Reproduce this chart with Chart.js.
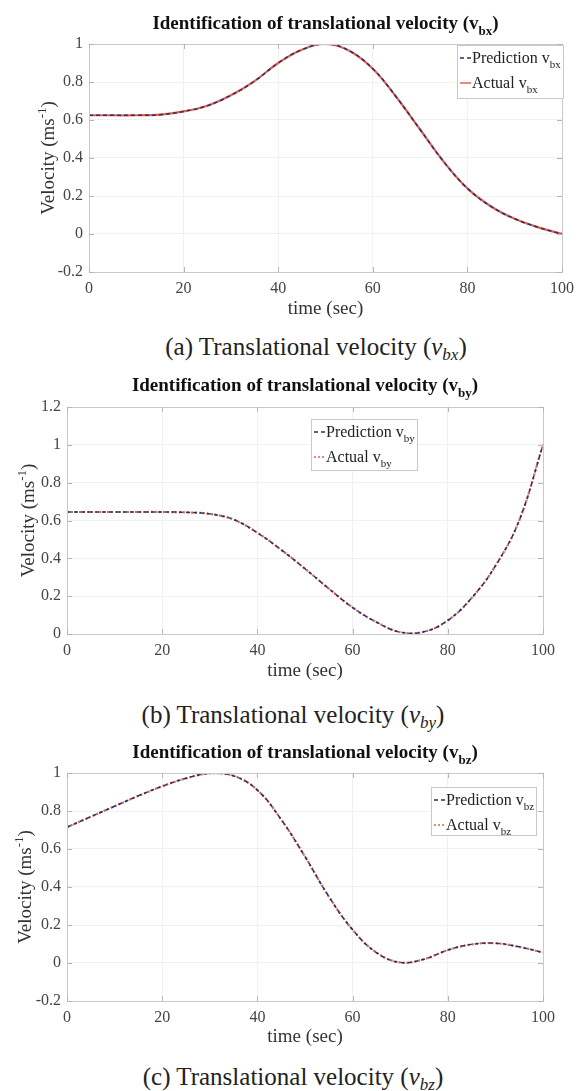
<!DOCTYPE html>
<html lang="en">
<head>
<meta charset="UTF-8">
<title>Identification of translational velocity</title>
<script src="https://cdn.jsdelivr.net/npm/chart.js"></script>
<style>
  body { margin: 0; background: #fff; width: 581px; height: 1091px; position: relative; overflow: hidden; font-family: "Liberation Serif", serif; }
  canvas { position: absolute; left: 0; }
  .caption { position: absolute; font-size: 25px; color: #222; white-space: nowrap; transform: translateX(-50%); line-height: 28px; }
  .caption sub { font-size: 17px; vertical-align: -5px; line-height: 0; }
</style>
</head>
<body>
<canvas id="chartBx" width="581" height="325" style="top:0px"></canvas>
<div class="caption" style="left:316px; top:333px">(a) Translational velocity (<i>v<sub>bx</sub></i>)</div>
<canvas id="chartBy" width="581" height="325" style="top:360px"></canvas>
<div class="caption" style="left:293px; top:701px">(b) Translational velocity (<i>v<sub>by</sub></i>)</div>
<canvas id="chartBz" width="581" height="325" style="top:728px"></canvas>
<div class="caption" style="left:293px; top:1063px">(c) Translational velocity (<i>v<sub>bz</sub></i>)</div>

<script>
// data (every 5 s)
const timeSec = [0, 5, 10, 15, 20, 25, 30, 35, 40, 45, 50, 55, 60, 65, 70, 75, 80, 85, 90, 95, 100];
const vbx = [0.625, 0.625, 0.625, 0.628, 0.645, 0.675, 0.73, 0.805, 0.9, 0.97, 1.0, 0.965, 0.87, 0.72, 0.55, 0.38, 0.24, 0.145, 0.08, 0.035, 0.0];
const vby = [0.645, 0.645, 0.645, 0.645, 0.645, 0.643, 0.635, 0.605, 0.535, 0.445, 0.345, 0.24, 0.14, 0.063, 0.01, 0.012, 0.072, 0.19, 0.36, 0.6, 1.0];
const vbz = [0.715, 0.77, 0.825, 0.88, 0.93, 0.972, 0.998, 0.985, 0.91, 0.755, 0.56, 0.35, 0.175, 0.055, 0.003, 0.02, 0.068, 0.098, 0.104, 0.085, 0.055];

const xTicks = [0, 20, 40, 60, 80, 100];
const yTicksBx = [-0.2, 0, 0.2, 0.4, 0.6, 0.8, 1];
const yTicksBy = [0, 0.2, 0.4, 0.6, 0.8, 1, 1.2];
const yTicksBz = [-0.2, 0, 0.2, 0.4, 0.6, 0.8, 1];

const RED = '#e2624f';
const NAVY = '#27306e';
const SERIF = '"Liberation Serif", "Times New Roman", serif';

// draw text made of pieces; s: 0 normal, -1 subscript, 1 superscript
function drawRich(ctx, parts, cx, cy, size, weight, color) {
  const fontFor = s => `${weight} ${s ? Math.round(size * 0.7) : size}px ${SERIF}`;
  let total = 0;
  parts.forEach(p => { ctx.font = fontFor(p.s); p.w = ctx.measureText(p.t).width; total += p.w; });
  let x = cx - total / 2;
  const base = cy + size * 0.33;
  ctx.fillStyle = color;
  ctx.textAlign = 'left';
  ctx.textBaseline = 'alphabetic';
  parts.forEach(p => {
    ctx.font = fontFor(p.s);
    const dy = p.s < 0 ? size * 0.32 : p.s > 0 ? -size * 0.42 : 0;
    ctx.fillText(p.t, x, base + dy);
    x += p.w;
  });
}

const decorPlugin = {
  id: 'decor',
  afterDraw(chart, args, o) {
    const ctx = chart.ctx;
    const a = chart.chartArea;
    ctx.save();
    // box
    ctx.strokeStyle = '#c9c9c9';
    ctx.lineWidth = 1;
    ctx.strokeRect(Math.round(a.left) + 0.5, Math.round(a.top) + 0.5, Math.round(a.right - a.left), Math.round(a.bottom - a.top));
    // inward tick marks
    ctx.strokeStyle = '#b5b5b5';
    ctx.beginPath();
    chart.scales.x.ticks.forEach(t => {
      const px = Math.round(chart.scales.x.getPixelForValue(t.value)) + 0.5;
      ctx.moveTo(px, a.bottom); ctx.lineTo(px, a.bottom - 5);
      ctx.moveTo(px, a.top); ctx.lineTo(px, a.top + 5);
    });
    chart.scales.y.ticks.forEach(t => {
      const py = Math.round(chart.scales.y.getPixelForValue(t.value)) + 0.5;
      ctx.moveTo(a.left, py); ctx.lineTo(a.left + 5, py);
      ctx.moveTo(a.right, py); ctx.lineTo(a.right - 5, py);
    });
    ctx.stroke();

    // title
    drawRich(ctx, [{t: 'Identification of translational velocity (v', s: 0}, {t: o.sub, s: -1}, {t: ')', s: 0}],
      (a.left + a.right) / 2, o.titleY, 19, 'bold', '#111');

    // y axis title
    ctx.save();
    ctx.translate(o.yTitleX, (a.top + a.bottom) / 2);
    ctx.rotate(-Math.PI / 2);
    drawRich(ctx, [{t: 'Velocity (ms', s: 0}, {t: '-1', s: 1}, {t: ')', s: 0}], 0, 0, 19, 'normal', '#333');
    ctx.restore();

    // legend
    const L = o.legend;
    ctx.fillStyle = '#fff';
    ctx.fillRect(L.x, L.y, L.w, L.h);
    ctx.strokeStyle = '#c9c9c9';
    ctx.strokeRect(L.x + 0.5, L.y + 0.5, L.w, L.h);
    const rows = [
      {label: 'Prediction v', color: NAVY, dash: [4, 3]},
      {label: 'Actual v', color: RED, dash: o.actualDash}
    ];
    rows.forEach((r, i) => {
      const ry = L.y + 13 + i * 25;
      ctx.strokeStyle = r.color;
      ctx.lineWidth = 1.5;
      ctx.setLineDash(r.dash);
      ctx.beginPath();
      ctx.moveTo(L.x + 3, ry); ctx.lineTo(L.x + 14, ry);
      ctx.stroke();
      ctx.setLineDash([]);
      ctx.font = `16px ${SERIF}`;
      const w1 = ctx.measureText(r.label).width;
      ctx.font = `11px ${SERIF}`;
      const w2 = ctx.measureText(o.sub).width;
      drawRich(ctx, [{t: r.label, s: 0}, {t: o.sub, s: -1}], L.x + 15 + (w1 + w2) / 2, ry, 16, 'normal', '#222');
    });
    ctx.restore();
  }
};

function makeChart(id, series, yTicks, sub, box, extra) {
  const pts = timeSec.map((t, i) => ({x: t, y: series[i]}));
  return new Chart(document.getElementById(id), {
    type: 'line',
    data: {
      datasets: [
        {label: 'Prediction v' + sub, data: pts, borderColor: NAVY, borderWidth: 1.5, borderDash: [4, 3],
          pointRadius: 0, tension: 0.4, order: 0},
        {label: 'Actual v' + sub, data: pts, borderColor: RED, borderWidth: 2.2, borderDash: extra.actualDash,
          pointRadius: 0, tension: 0.4, order: 1}
      ]
    },
    options: {
      responsive: false,
      animation: false,
      devicePixelRatio: 1,
      layout: {padding: {left: 0, top: box.top, right: 581 - box.right, bottom: 0}},
      plugins: {
        legend: {display: false},
        tooltip: {enabled: false},
        decor: {sub: sub, titleY: extra.titleY, yTitleX: extra.yTitleX, legend: extra.legend, actualDash: extra.actualDash}
      },
      scales: {
        x: {
          type: 'linear', min: 0, max: 100,
          afterBuildTicks: s => { s.ticks = xTicks.map(v => ({value: v})); },
          afterFit: s => { s.height = 325 - box.bottom; },
          grid: {color: '#f1f1f1', drawTicks: false},
          border: {display: false},
          ticks: {padding: 7, color: '#444', font: {family: SERIF, size: 16}, maxRotation: 0},
          title: {display: true, text: 'time (sec)', color: '#333', font: {family: SERIF, size: 19, lineHeight: 1},
            padding: {top: 0, bottom: extra.xTitlePad}}
        },
        y: {
          type: 'linear', min: yTicks[0], max: yTicks[yTicks.length - 1],
          afterBuildTicks: s => { s.ticks = yTicks.map(v => ({value: v})); },
          afterFit: s => { s.width = box.left; },
          grid: {color: '#f1f1f1', drawTicks: false},
          border: {display: false},
          ticks: {padding: 6, color: '#444', font: {family: SERIF, size: 16},
            callback: v => String(Number(v.toFixed(2)))}
        }
      }
    },
    plugins: [decorPlugin]
  });
}

makeChart('chartBx', vbx, yTicksBx, 'bx', {left: 89, right: 566, top: 44, bottom: 272},
  {titleY: 23, yTitleX: 48, xTitlePad: 6, actualDash: [], legend: {x: 457, y: 45, w: 106, h: 53}});
makeChart('chartBy', vby, yTicksBy, 'by', {left: 67, right: 543, top: 47, bottom: 274},
  {titleY: 25, yTitleX: 28, xTitlePad: 4, actualDash: [2, 2], legend: {x: 311, y: 59, w: 106, h: 51}});
makeChart('chartBz', vbz, yTicksBz, 'bz', {left: 67, right: 543, top: 45, bottom: 273},
  {titleY: 24, yTitleX: 25, xTitlePad: 6, actualDash: [2, 2], legend: {x: 431, y: 59, w: 105, h: 48}});
</script>
</body>
</html>
